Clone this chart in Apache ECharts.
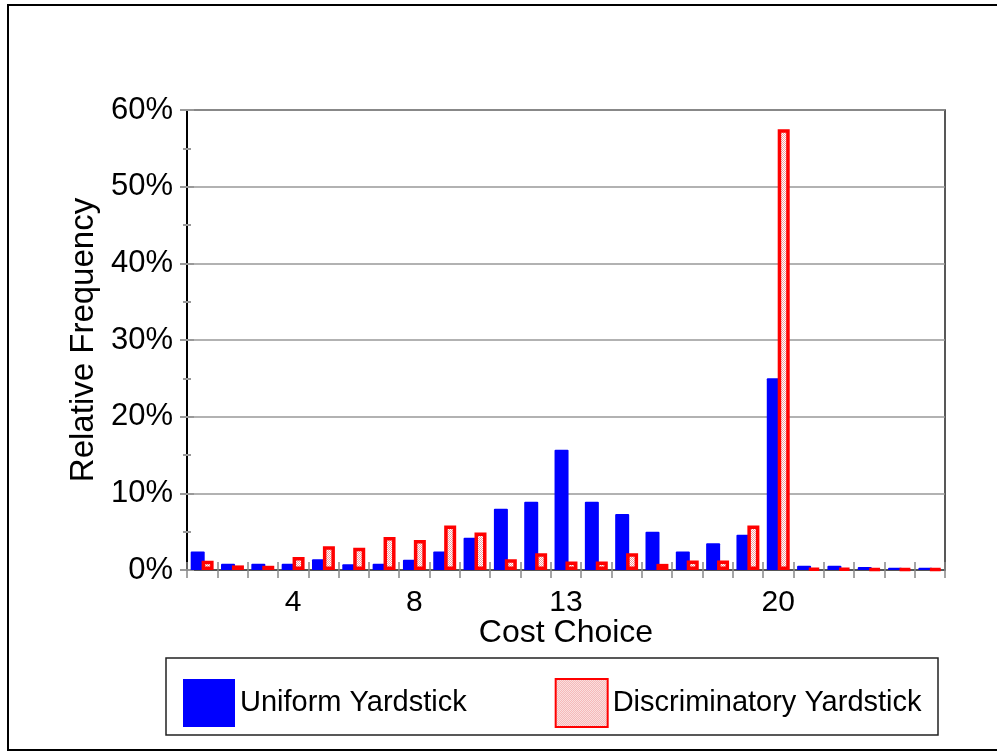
<!DOCTYPE html>
<html>
<head>
<meta charset="utf-8">
<script src="https://cdn.jsdelivr.net/npm/echarts@6/dist/echarts.min.js"></script>
<style>
  html, body { margin: 0; padding: 0; background: #fff; }
  #main { width: 997px; height: 751px; }
</style>
</head>
<body>
<div id="main"></div>
<script>
// cost choices 1..25, only some labelled
var costChoices = ['1','2','3','4','5','6','7','8','9','10','11','12','13','14','15','16','17','18','19','20','21','22','23','24','25'];
var shownLabels = ['4', '8', '13', '20'];
// relative frequency (%)
var uniformYardstick = [2.4, 0.8, 0.8, 0.8, 1.4, 0.75, 0.8, 1.35, 2.4, 4.2, 8.0, 8.9, 15.7, 8.9, 7.3, 5.0, 2.4, 3.5, 4.6, 25.0, 0.55, 0.55, 0.4, 0.3, 0.3];
var discriminatoryYardstick = [1.2, 0.6, 0.55, 1.7, 3.1, 2.9, 4.3, 3.9, 5.8, 4.9, 1.4, 2.2, 1.1, 1.1, 2.2, 0.8, 1.25, 1.25, 5.8, 57.5, 0.2, 0.2, 0.15, 0.15, 0.15];
var yTicks = [0, 10, 20, 30, 40, 50, 60];

var FONT = '"Liberation Sans", Arial, sans-serif';

// stipple fill for the red bars
var pat = document.createElement('canvas');
pat.width = 2; pat.height = 2;
var pctx = pat.getContext('2d');
pctx.fillStyle = '#ffffff';
pctx.fillRect(0, 0, 2, 2);
pctx.fillStyle = '#f29a9a';
pctx.fillRect(0, 0, 1, 1);
pctx.fillRect(1, 1, 1, 1);

var chart = echarts.init(document.getElementById('main'), null, { renderer: 'canvas' });

var option = {
  backgroundColor: '#ffffff',
  animation: false,
  textStyle: { fontFamily: FONT, color: '#000' },
  grid: { left: 187, right: 52, top: 110, bottom: 181, show: true, borderColor: '#222', borderWidth: 1.5, backgroundColor: 'transparent' },
  legend: {
    left: 178, top: 673,
    itemWidth: 52, itemHeight: 48,
    itemGap: 88,
    icon: 'rect',
    textStyle: { fontSize: 29, fontFamily: FONT, color: '#000' },
    data: ['Uniform Yardstick', 'Discriminatory Yardstick']
  },
  xAxis: [{
    type: 'category',
    data: costChoices,
    name: 'Cost Choice',
    nameLocation: 'middle',
    nameGap: 47,
    nameMoveOverlap: false,
    nameTextStyle: { fontSize: 32, color: '#000', fontFamily: FONT },
    axisLine: { lineStyle: { color: '#444', width: 1.5 } },
    axisTick: { show: true, length: 8, lineStyle: { color: '#888', width: 1.5 } },
    axisLabel: {
      interval: 0, fontSize: 30, color: '#000', margin: 18,
      formatter: function(v) { return shownLabels.indexOf(v) >= 0 ? v : ''; }
    },
    splitLine: { show: false }
  }, {
    // inner half of the crossing ticks
    type: 'category',
    data: costChoices,
    position: 'bottom',
    axisLine: { show: false },
    axisTick: { show: true, inside: true, length: 8, lineStyle: { color: '#888', width: 1.5 } },
    axisLabel: { show: false },
    splitLine: { show: false }
  }],
  yAxis: [{
    type: 'value',
    min: 0, max: 60, interval: 10,
    name: 'Relative Frequency',
    nameLocation: 'middle',
    nameGap: 82,
    nameTextStyle: { fontSize: 33, color: '#000', fontFamily: FONT },
    axisLine: { show: true, lineStyle: { color: '#000', width: 2 } },
    axisTick: { show: true, length: 7, lineStyle: { color: '#999', width: 2 } },
    minorTick: { show: true, splitNumber: 2, length: 4, lineStyle: { color: '#999', width: 2 } },
    axisLabel: {
      fontSize: 31, color: '#000', margin: 14,
      formatter: function(v) { return yTicks.indexOf(v) >= 0 ? v + '%' : ''; }
    },
    splitLine: { show: true, lineStyle: { color: '#999', width: 1.5 } }
  }, {
    type: 'value',
    min: 0, max: 60, interval: 10,
    position: 'left',
    axisLine: { show: false },
    axisTick: { show: true, inside: true, length: 7, lineStyle: { color: '#999', width: 2 } },
    minorTick: { show: true, splitNumber: 2, length: 4, lineStyle: { color: '#999', width: 2 } },
    axisLabel: { show: false },
    splitLine: { show: false }
  }],
  series: [{
    name: 'Uniform Yardstick',
    type: 'bar',
    barWidth: 14,
    barGap: '-22%',
    itemStyle: { color: '#0000ff', borderRadius: [1, 1, 0, 0] },
    data: uniformYardstick
  }, {
    name: 'Discriminatory Yardstick',
    type: 'bar',
    barWidth: 12,
    itemStyle: { color: { image: pat, repeat: 'repeat' }, borderColor: '#ff0000', borderWidth: 3.5 },
    data: discriminatoryYardstick
  }],
  graphic: [{
    type: 'rect',
    shape: { x: 8, y: 5, width: 1000, height: 745 },
    style: { fill: 'none', stroke: '#000', lineWidth: 2 },
    silent: true
  }, {
    type: 'rect',
    shape: { x: 166, y: 658, width: 772, height: 77 },
    style: { fill: 'none', stroke: '#222', lineWidth: 1.5 },
    silent: true
  }]
};

chart.setOption(option);
</script>
</body>
</html>
